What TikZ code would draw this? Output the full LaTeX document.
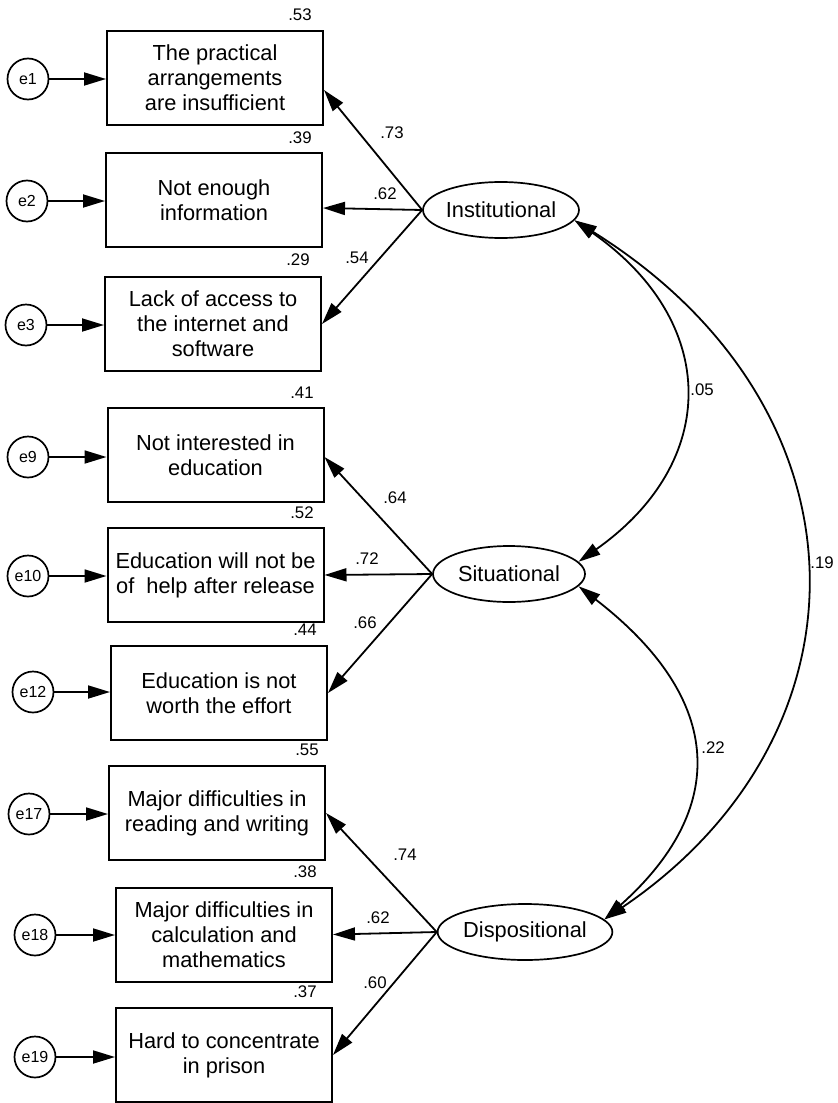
\documentclass[tikz,border=0pt]{standalone}
\usepackage{fontspec}
\setmainfont{Liberation Sans}
\usetikzlibrary{arrows.meta,shapes.geometric}
\begin{document}
\begin{tikzpicture}[x={(0.5pt,0)}, y={(0,-0.5pt)},
  ind/.style={draw, line width=1pt, minimum width=108pt, minimum height=47pt, align=center, inner sep=0pt, font=\fontsize{10.9}{12.5}\selectfont},
  err/.style={draw, circle, line width=0.85pt, minimum size=20.5pt, inner sep=0pt, font=\fontsize{8}{9}\selectfont},
  lat/.style={draw, ellipse, line width=0.85pt, minimum width=76pt, minimum height=28pt, inner sep=0pt, font=\fontsize{10.9}{12.5}\selectfont},
  num/.style={font=\fontsize{8.4}{10}\selectfont, inner sep=0pt},
  arr/.style={-{Triangle[length=11pt,width=6.5pt]}, line width=0.9pt},
  cov/.style={{Triangle[length=11pt,width=6.5pt]}-{Triangle[length=11pt,width=6.5pt]}, line width=0.9pt}
]
\useasboundingbox (0,0) rectangle (837,1103);

% indicators
\node[ind] (b1) at (215,78) {The practical\\arrangements\\are insufficient};
\node[ind] (b2) at (214,200) {Not enough\\information};
\node[ind] (b3) at (213,324) {Lack of access to\\the internet and\\software};
\node[ind] (b4) at (215.5,455) {Not interested in\\education};
\node[ind] (b5) at (215.5,575) {Education will not be\\of\ \ help after release};
\node[ind] (b6) at (219,693) {Education is not\\worth the effort};
\node[ind] (b7) at (217,813) {Major difficulties in\\reading and writing};
\node[ind] (b8) at (224,934.5) {Major difficulties in\\calculation and\\mathematics};
\node[ind] (b9) at (224,1055) {Hard to concentrate\\in prison};

% errors
\node[err] (e1) at (28,79) {e1};
\node[err] (e2) at (27,201) {e2};
\node[err] (e3) at (26,325) {e3};
\node[err] (e9) at (28,457) {e9};
\node[err] (e10) at (28,576) {e10};
\node[err] (e12) at (33,692) {e12};
\node[err] (e17) at (29,814) {e17};
\node[err] (e18) at (35,935) {e18};
\node[err] (e19) at (35,1057) {e19};

\foreach \e/\b in {e1/b1,e2/b2,e3/b3,e9/b4,e10/b5,e12/b6,e17/b7,e18/b8,e19/b9}
  \draw[arr] (\e.east) -- (\e -| \b.west);

% latent
\node[lat] (inst) at (501,210) {Institutional};
\node[lat] (sit) at (509,574) {Situational};
\node[lat] (disp) at (525,932) {Dispositional};

% loadings
\draw[arr] (inst.west) -- ([yshift=-6pt]b1.east);
\draw[arr] (inst.west) -- ([yshift=-4pt]b2.east);
\draw[arr] (inst.west) -- (b3.east);
\draw[arr] (sit.west) -- ([yshift=-1pt]b4.east);
\draw[arr] (sit.west) -- (b5.east);
\draw[arr] (sit.west) -- (b6.east);
\draw[arr] (disp.west) -- (b7.east);
\draw[arr] (disp.west) -- (b8.east);
\draw[arr] (disp.west) -- (b9.east);

% squared multiple correlations
\node[num] (r1) at (300,15) {.53};
\node[num] (r2) at (300,138) {.39};
\node[num] (r3) at (298,260) {.29};
\node[num] (r4) at (302,393) {.41};
\node[num] (r5) at (302,513) {.52};
\node[num] (r6) at (305,630) {.44};
\node[num] (r7) at (307,750) {.55};
\node[num] (r8) at (305,872) {.38};
\node[num] (r9) at (305,992) {.37};

% loading labels
\node[num] (l1) at (392,133) {.73};
\node[num] (l2) at (385,194) {.62};
\node[num] (l3) at (357,258) {.54};
\node[num] (l4) at (395,498) {.64};
\node[num] (l5) at (367,559) {.72};
\node[num] (l6) at (365,623) {.66};
\node[num] (l7) at (405,855) {.74};
\node[num] (l8) at (378,918) {.62};
\node[num] (l9) at (375,983) {.60};

% covariances
\draw[cov] (inst.-8) .. controls (720,322) and (720,462) .. (sit.10);
\draw[cov] (sit.-10) .. controls (727,701) and (727,810) .. (disp.9);
\draw[cov] (inst.-8) .. controls (877,409) and (877,735) .. (disp.9);
\node[num] (c1) at (702,390) {.05};
\node[num] (c2) at (713,748) {.22};
\node[num] (c3) at (822,563) {.19};
\end{tikzpicture}
\end{document}
